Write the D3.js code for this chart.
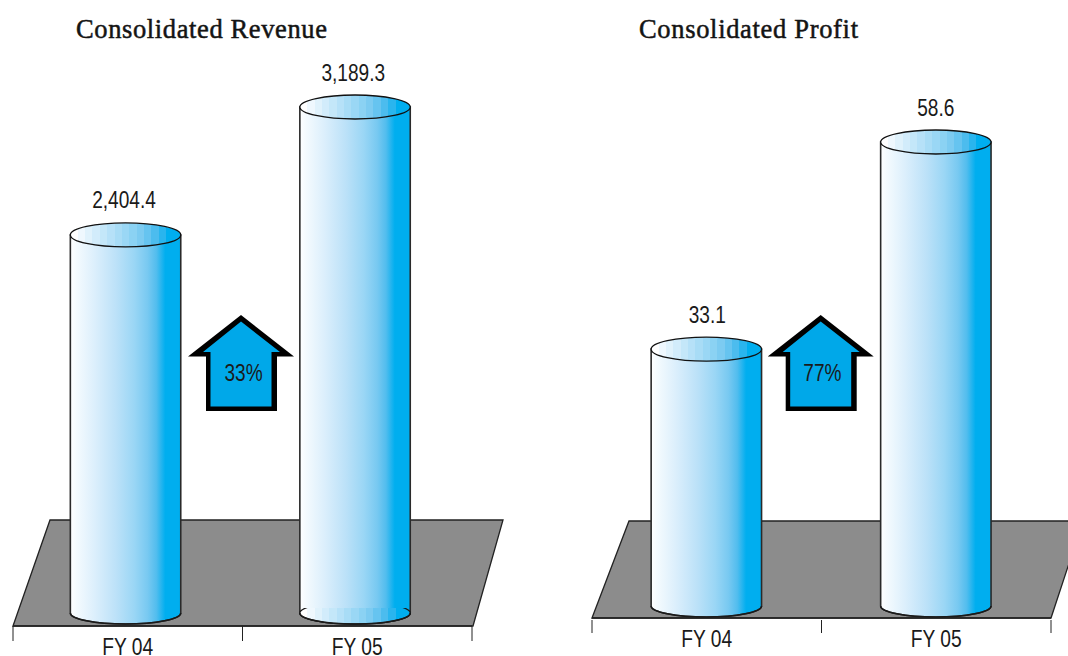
<!DOCTYPE html>
<html><head><meta charset="utf-8">
<script src="https://cdn.jsdelivr.net/npm/d3@7"></script>
<style>html,body{margin:0;padding:0;background:#fff}svg{display:block}</style>
</head><body><svg id="c" width="1068" height="656"></svg>
<script>
const categories = ["FY 04", "FY 05"];
const panelTitles = ["Consolidated Revenue", "Consolidated Profit"];
const revenueValues = [2404.4, 3189.3];
const profitValues = [33.1, 58.6];
const revenueLabels = ["2,404.4", "3,189.3"];
const profitLabels = ["33.1", "58.6"];
const growthLabels = ["33%", "77%"];
const capBands = ["#ffffff","#eff8fe","#e0f2fc","#d2ecfb","#c4e7f9","#b6e1f8","#a8dcf6","#9ad7f5","#8bd2f3","#7ccbf1","#66c4f0","#4cbcee","#2ab5ee","#00aeef","#00aeef"];
const bodyStops = [[0,"#ffffff"],[0.05,"#f5fbfe"],[0.22,"#dceffc"],[0.42,"#bbe1f8"],[0.58,"#9ad6f5"],[0.7,"#78c9f1"],[0.78,"#52bdee"],[0.86,"#00aeef"],[1,"#00aeef"]];

const svg = d3.select("#c");
const defs = svg.append("defs");
const capGrad = defs.append("linearGradient").attr("id","cap").attr("x1",0).attr("x2",1).attr("y1",0).attr("y2",0);
capBands.forEach((c,i)=>{
  capGrad.append("stop").attr("offset",i/capBands.length).attr("stop-color",c);
  capGrad.append("stop").attr("offset",(i+1)/capBands.length).attr("stop-color",c);
});
const bodyGrad = defs.append("linearGradient").attr("id","body").attr("x1",0).attr("x2",1).attr("y1",0).attr("y2",0);
bodyStops.forEach(s=>bodyGrad.append("stop").attr("offset",s[0]).attr("stop-color",s[1]));

const sans = "'Liberation Sans',Arial,sans-serif";
const panels = [
 {title:panelTitles[0],titleX:76,titleLen:251,values:revenueValues,labels:revenueLabels,growth:growthLabels[0],
  axisX:[13,472],axisY:626,tickEnd:641,plate:[[13,626],[50,520],[503,520],[473,626]],
  cylShift:-2.2,labelShift:[-3.75,-4],zero:627,top:107,base:613,catY:655,arrowX:0,growthShift:1.8,innerBase:[false,true]},
 {title:panelTitles[1],titleX:639,titleLen:219,values:profitValues,labels:profitLabels,growth:growthLabels[1],
  axisX:[592,1051],axisY:618,tickEnd:633,plate:[[592,618],[629,521],[1083,521],[1051,618]],
  cylShift:-0.4,labelShift:[0.5,-0.5],zero:618,top:142,base:606,catY:647,arrowX:579.7,growthShift:1,innerBase:[false,false]}
];
const rx=55.2, ryTop=12, ryBase=11;
function narrow(sel,px,py,sx){ return sel.attr("transform",`translate(${px},${py}) scale(${sx},1)`).attr("text-anchor","middle"); }

panels.forEach((p,pi)=>{
  const g = svg.append("g");
  g.append("text").attr("x",p.titleX).attr("y",38).text(p.title)
    .attr("textLength",p.titleLen).attr("lengthAdjust","spacing")
    .attr("font-family","'Liberation Serif',serif").attr("font-size",26.5)
    .attr("fill","#141414").attr("stroke","#141414").attr("stroke-width",0.5);
  g.append("path").attr("d",d3.line()(p.plate)+"Z").attr("fill","#8c8c8c").attr("stroke","#222").attr("stroke-width",1.3);

  const x = d3.scaleBand().domain(categories).range(p.axisX);
  const y = d3.scaleLinear().domain([0,d3.max(p.values)]).range([p.zero,p.top]);
  const ax = g.append("g").attr("transform",`translate(0,${p.axisY})`);
  ax.append("line").attr("x1",p.axisX[0]).attr("x2",p.axisX[1]).attr("stroke","#222").attr("stroke-width",1.3);
  [p.axisX[0],(p.axisX[0]+p.axisX[1])/2,p.axisX[1]].forEach(t=>{
    ax.append("line").attr("x1",t).attr("x2",t).attr("y1",pi?2:0).attr("y2",p.tickEnd-p.axisY).attr("stroke","#222").attr("stroke-width",1);
  });
  categories.forEach((c,i)=>{
    const mid=x(c)+x.bandwidth()/2, cx=mid+p.cylShift;
    const v=p.values[i], top=y(v), base=p.base;
    const d=`M${cx-rx},${top}L${cx+rx},${top}L${cx+rx},${base}A${rx},${ryBase} 0 0 1 ${cx-rx},${base}Z`;
    g.append("path").attr("d",d).attr("fill","url(#body)").attr("stroke","#2a2a2a").attr("stroke-width",1.6);
    if(p.innerBase[i]){
      const cid=`clip${pi}${i}`;
      defs.append("clipPath").attr("id",cid).append("rect").attr("x",cx-rx-2).attr("y",base-5).attr("width",2*rx+4).attr("height",ryBase+7);
      g.append("g").attr("clip-path",`url(#${cid})`).append("ellipse")
        .attr("cx",cx).attr("cy",base).attr("rx",rx).attr("ry",ryBase).attr("fill","url(#cap)")
        .attr("stroke","#1a1a1a").attr("stroke-width",1.3);
    }
    g.append("path").attr("d",`M${cx-rx},${base}A${rx},${ryBase} 0 0 0 ${cx+rx},${base}`).attr("fill","none").attr("stroke","#1a1a1a").attr("stroke-width",1.6);
    g.append("ellipse").attr("cx",cx).attr("cy",top).attr("rx",rx).attr("ry",ryTop).attr("fill","url(#cap)").attr("stroke","#111").attr("stroke-width",1.3);
    narrow(g.append("text").text(p.labels[i]),mid+p.labelShift[i],top-26.5,0.83)
      .attr("font-family",sans).attr("font-size",23).attr("fill","#1a1a1a");
    narrow(g.append("text").text(c),mid,p.catY,0.8)
      .attr("font-family",sans).attr("font-size",24).attr("fill","#1a1a1a");
  });
  const a=g.append("g").attr("transform",`translate(${p.arrowX},0)`);
  const arrow=d3.line();
  a.append("path").attr("d",arrow([[241,315],[294,356.5],[277,356.5],[277,411],[206,411],[206,356.5],[188,356.5]])+"Z").attr("fill","#000");
  a.append("path").attr("d",arrow([[241,321.5],[280,352],[271.5,352],[271.5,406.5],[210.5,406.5],[210.5,352],[203,352]])+"Z").attr("fill","#00a8e9");
  narrow(a.append("text").text(p.growth),241.7+p.growthShift,381,0.83)
    .attr("font-family",sans).attr("font-size",23).attr("fill","#1a1a1a");
});
</script></body></html>
